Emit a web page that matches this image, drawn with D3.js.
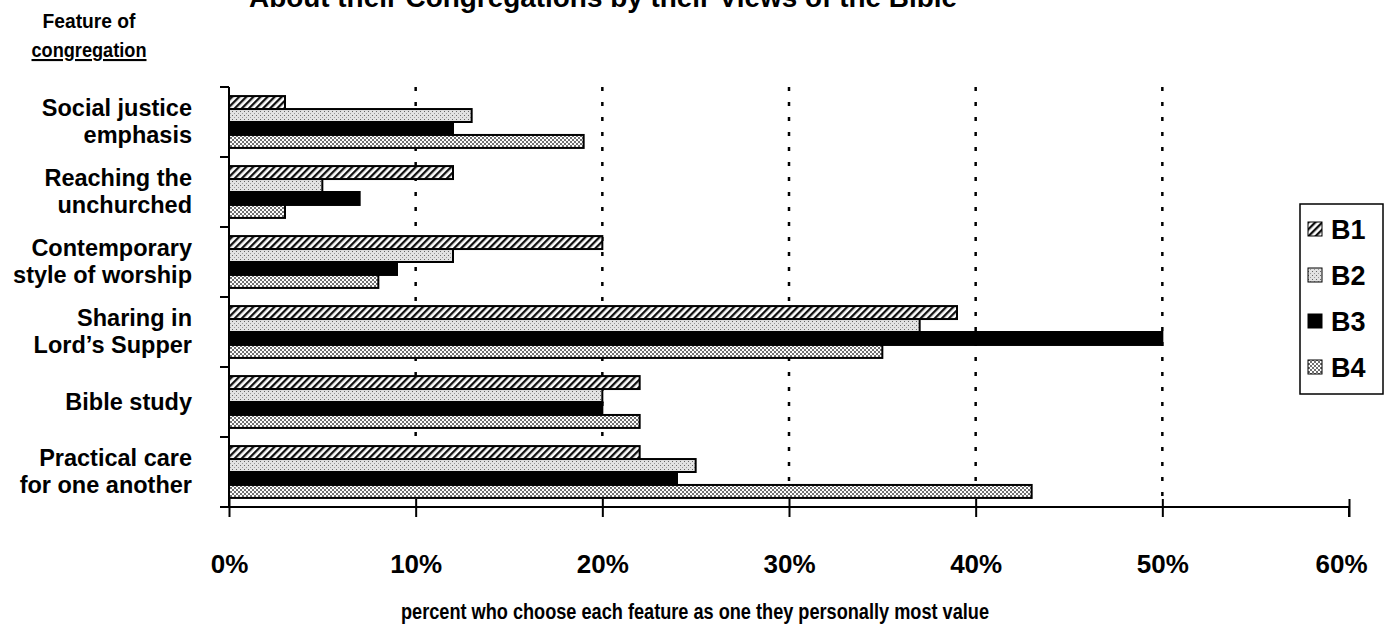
<!DOCTYPE html>
<html>
<head>
<meta charset="utf-8">
<script src="https://cdn.jsdelivr.net/npm/d3@7/dist/d3.min.js"></script>
<style>
  body { margin: 0; background: #fff; }
  svg { display: block; font-family: "Liberation Sans", Arial, sans-serif; font-weight: bold; }
</style>
</head>
<body>
<svg id="chart" width="1393" height="624"></svg>
<script>
// categories, top to bottom
const features = [
	['Social justice', 'emphasis'],
	['Reaching the', 'unchurched'],
	['Contemporary', 'style of worship'],
	['Sharing in', 'Lord\u2019s Supper'],
	['Bible study'],
	['Practical care', 'for one another']
];
const seriesNames = ['B1', 'B2', 'B3', 'B4'];
const b1 = [3, 12, 20, 39, 22, 22];
const b2 = [13, 5, 12, 37, 20, 25];
const b3 = [12, 7, 9, 50, 20, 24];
const b4 = [19, 3, 8, 35, 22, 43];
const xTicks = [0, 10, 20, 30, 40, 50, 60];

const allSeries = [b1, b2, b3, b4];

const svg = d3.select('#chart');
const margin = {left: 229, right: 44, top: 87, bottom: 117};
const W = 1393, H = 624;

const x = d3.scaleLinear().domain([0, 60]).range([margin.left, W - margin.right]);
const y0 = d3.scaleBand().domain(d3.range(features.length)).range([margin.top, H - margin.bottom]);
const y1 = d3.scaleBand().domain(seriesNames).range([0, y0.bandwidth()]).paddingOuter(0.7).paddingInner(0);

// patterns
const defs = svg.append('defs');
let p1 = defs.append('pattern').attr('id', 'pat-B1').attr('patternUnits', 'userSpaceOnUse')
	.attr('width', 5).attr('height', 5).attr('patternTransform', 'rotate(45)');
p1.append('rect').attr('width', 5).attr('height', 5).attr('fill', '#fff');
p1.append('rect').attr('width', 2.3).attr('height', 5).attr('fill', '#111');

let p2 = defs.append('pattern').attr('id', 'pat-B2').attr('patternUnits', 'userSpaceOnUse')
	.attr('width', 4).attr('height', 4);
p2.append('rect').attr('width', 4).attr('height', 4).attr('fill', '#e2e2e2');
p2.append('rect').attr('x', 0).attr('y', 0).attr('width', 1).attr('height', 1).attr('fill', '#666');
p2.append('rect').attr('x', 2).attr('y', 2).attr('width', 1).attr('height', 1).attr('fill', '#999');

let p4 = defs.append('pattern').attr('id', 'pat-B4').attr('patternUnits', 'userSpaceOnUse')
	.attr('width', 4).attr('height', 4);
p4.append('rect').attr('width', 4).attr('height', 4).attr('fill', '#fff');
p4.append('rect').attr('x', 0).attr('y', 0).attr('width', 2).attr('height', 2).attr('fill', '#707070');
p4.append('rect').attr('x', 2).attr('y', 2).attr('width', 2).attr('height', 2).attr('fill', '#707070');

const fills = {B1: 'url(#pat-B1)', B2: 'url(#pat-B2)', B3: '#000', B4: 'url(#pat-B4)'};

// dotted gridlines
svg.append('g').selectAll('line').data(xTicks.filter(t => t > 0 && t < 60)).enter()
	.append('line')
	.attr('x1', d => x(d)).attr('x2', d => x(d))
	.attr('y1', margin.top).attr('y2', H - margin.bottom)
	.attr('stroke', '#000').attr('stroke-width', 2.5)
	.attr('stroke-dasharray', '4,11');

// bars
const groups = svg.append('g').selectAll('g').data(features).enter()
	.append('g')
	.attr('transform', (d, i) => `translate(0,${y0(i)})`);

groups.selectAll('rect')
	.data((d, i) => seriesNames.map((s, k) => ({s: s, v: allSeries[k][i]})))
	.enter().append('rect')
	.attr('x', x(0))
	.attr('y', d => y1(d.s))
	.attr('width', d => x(d.v) - x(0))
	.attr('height', y1.bandwidth())
	.attr('fill', d => fills[d.s])
	.attr('stroke', '#000').attr('stroke-width', 2);

// y axis
const yAxisG = svg.append('g');
yAxisG.append('line')
	.attr('x1', x(0)).attr('x2', x(0))
	.attr('y1', margin.top).attr('y2', H - margin.bottom)
	.attr('stroke', '#000').attr('stroke-width', 2);
yAxisG.selectAll('.ytick').data(d3.range(features.length + 1)).enter()
	.append('line')
	.attr('x1', x(0) - 9).attr('x2', x(0))
	.attr('y1', i => margin.top + i * y0.bandwidth())
	.attr('y2', i => margin.top + i * y0.bandwidth())
	.attr('stroke', '#000').attr('stroke-width', 2);

// category labels
groups.append('text')
	.attr('text-anchor', 'end')
	.attr('font-size', 23.5)
	.attr('fill', '#000')
	.each(function(d) {
		const t = d3.select(this);
		const bw = y0.bandwidth();
		if (d.length === 1) {
			t.append('tspan').attr('x', 192).attr('y', bw / 2 + 8).text(d[0]);
		} else {
			t.append('tspan').attr('x', 192).attr('y', bw / 2 - 6).text(d[0]);
			t.append('tspan').attr('x', 192).attr('y', bw / 2 + 21).text(d[1]);
		}
	});

// x axis
const xAxis = d3.axisBottom(x).tickValues(xTicks).tickFormat(d => d + '%').tickSize(10).tickPadding(38);
const xg = svg.append('g').attr('transform', `translate(0,${H - margin.bottom})`).call(xAxis);
xg.select('.domain').attr('stroke-width', 2).attr('d', `M${x(0)},0H${x(60)}V10`);
xg.selectAll('.tick line').attr('y1', -8).attr('stroke-width', 2);
xg.selectAll('.tick text')
	.attr('font-family', '"Liberation Sans", Arial, sans-serif')
	.attr('font-weight', 'bold')
	.attr('font-size', 26).attr('fill', '#000');
xg.selectAll('.tick').filter(d => d === 60).select('text').attr('dx', -8);

svg.append('text')
	.attr('x', 695).attr('y', 619)
	.attr('text-anchor', 'middle')
	.attr('font-size', 22)
	.attr('textLength', 588).attr('lengthAdjust', 'spacingAndGlyphs')
	.text('percent who choose each feature as one they personally most value');

// title (cut at the top edge)
svg.append('text')
	.attr('x', 603).attr('y', 7)
	.attr('text-anchor', 'middle')
	.attr('font-size', 27)
	.attr('textLength', 708).attr('lengthAdjust', 'spacingAndGlyphs')
	.text('About their Congregations by their Views of the Bible');

// y title
svg.append('text').attr('x', 89).attr('y', 28).attr('text-anchor', 'middle')
	.attr('font-size', 21).attr('textLength', 93).attr('lengthAdjust', 'spacingAndGlyphs')
	.text('Feature of');
svg.append('text').attr('x', 89).attr('y', 57).attr('text-anchor', 'middle')
	.attr('font-size', 21).attr('textLength', 115).attr('lengthAdjust', 'spacingAndGlyphs')
	.attr('text-decoration', 'underline').text('congregation');

// legend
const legend = svg.append('g').attr('transform', 'translate(1300,204)');
legend.append('rect').attr('width', 83).attr('height', 190)
	.attr('fill', '#fff').attr('stroke', '#000').attr('stroke-width', 1.5);
const items = legend.selectAll('.item').data(seriesNames).enter()
	.append('g').attr('transform', (d, i) => `translate(0,${25 + i * 46})`);
items.append('rect').attr('x', 8).attr('y', -7).attr('width', 14).attr('height', 14)
	.attr('fill', d => fills[d]).attr('stroke', '#000').attr('stroke-width', 1);
items.append('text').attr('x', 31).attr('y', 10).attr('font-size', 27).text(d => d);
</script>
</body>
</html>
